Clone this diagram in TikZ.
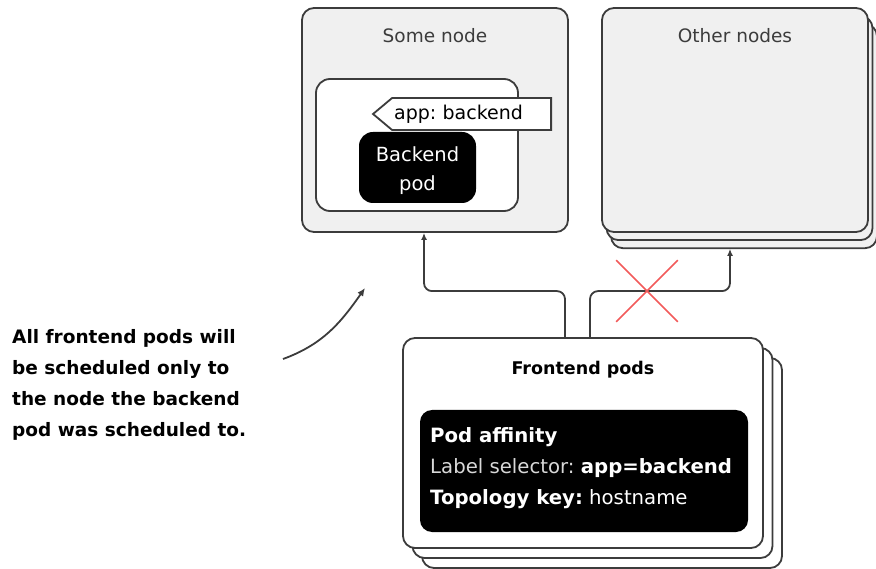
\documentclass[tikz,border=0pt]{standalone}
\usepackage{fontspec}
\setmainfont{DejaVu Sans}
\usetikzlibrary{shadows,shapes.symbols,shapes.misc,arrows.meta}

\definecolor{hostgray}{HTML}{F0F0F0}
\definecolor{edge}{HTML}{3C3C3C}
\definecolor{nogo}{HTML}{F25A5A}
\definecolor{soft}{HTML}{D8D8D8}

\tikzset{
  host/.style={draw=edge, fill=hostgray, line width=1.8pt, rounded corners=12pt,
    minimum width=266pt, minimum height=224pt},
  stack/.style={copy shadow={shadow xshift=#1, shadow yshift=-#1*1.8, fill=hostgray, draw=edge, line width=1.8pt},
    copy shadow={shadow xshift=#1/2, shadow yshift=-#1*0.9, fill=hostgray, draw=edge, line width=1.8pt}},
  title/.style={font=\fontsize{18.5}{20}\selectfont, text=edge},
  podbox/.style={draw=edge, fill=white, line width=1.8pt, rounded corners=14pt},
  tag/.style={signal, signal to=west, signal pointer angle=80, draw=edge, fill=white,
    line width=1.8pt, minimum height=32pt, inner xsep=2pt, text width=155pt, align=left,
    font=\fontsize{19}{20}\selectfont},
  blackpod/.style={fill=black, rounded corners=14pt},
  podtext/.style={text=white, align=center, font=\fontsize{19.5}{29}\selectfont},
  link/.style={draw=edge, line width=1.8pt, rounded corners=8pt, -{Latex[length=7pt,width=6pt]}}
}

\begin{document}
\frenchspacing
\begin{tikzpicture}[x=1pt,y=1pt]
\useasboundingbox (0,0) rectangle (876,-569);

% target nodes
\node[host] (some) at (435,-120) {};
\node[title] (sometitle) at ([yshift=-29pt]some.north) {Some node};
\node[podbox, minimum width=202pt, minimum height=132pt] (inner) at (417,-145) {};
\node[tag, anchor=east] (label) at (552,-114) {app: backend};
\node[blackpod, minimum width=117pt, minimum height=71pt] (backend) at (417.5,-167.5) {};
\node[podtext] (backendtext) at ([yshift=-3pt]backend.center) {Backend\\pod};

\node[host, stack=9pt] (others) at (735,-120) {};
\node[title] (othertitle) at ([yshift=-29pt]others.north) {Other nodes};

% frontend pods
\node[host, fill=white, minimum width=360pt, minimum height=210pt,
  copy shadow={shadow xshift=19pt, shadow yshift=-20pt, fill=white, draw=edge, line width=1.8pt},
  copy shadow={shadow xshift=9.5pt, shadow yshift=-10pt, fill=white, draw=edge, line width=1.8pt}] (front) at (583,-443) {};
\node[font=\fontsize{17.5}{20}\selectfont\bfseries] (fronttitle) at ([yshift=-33pt]front.north) {Frontend pods};
\node[fill=black, rounded corners=12pt, minimum width=328pt, minimum height=122pt] (rule) at (584,-471) {};
\node[anchor=north west, inner sep=0pt, text=white, align=left, font=\fontsize{19.7}{31}\selectfont] (ruletext) at (430,-427)
  {\textbf{Pod affinity}\\
   \textcolor{soft}{Label selector:} \textbf{app=backend}\\
   \textbf{Topology key:} hostname};

% connectors
\draw[link] ([xshift=-18pt]front.north) -- ++(0,46) -| ([xshift=-11pt]some.south);
\draw[link] ([xshift=7pt]front.north) -- ++(0,46) -| ([xshift=-5pt,yshift=-16pt]others.south);
\node[cross out, draw=nogo, line width=1.6pt, minimum size=60pt] (blocked) at (647,-291) {};

% note
\node[anchor=north west, inner sep=0pt, align=left, font=\fontsize{18.5}{31}\selectfont\bfseries] (note) at (12,-329)
  {All frontend pods will\\be scheduled only to\\the node the backend\\pod was scheduled to.};
\coordinate (notetip) at (365,-288);
\draw[edge, line width=1.8pt, -{Latex[length=8pt,width=7pt]}] (283,-359) to[out=20, in=235] (notetip);
\end{tikzpicture}
\end{document}
